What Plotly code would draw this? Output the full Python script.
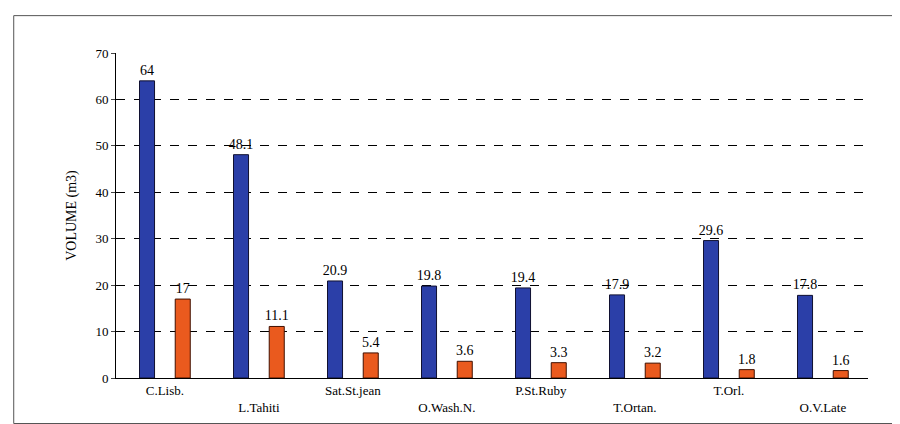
import plotly.graph_objects as go

# Volume per variety (m3)
categories = ['C.Lisb.', 'L.Tahiti', 'Sat.St.jean', 'O.Wash.N.', 'P.St.Ruby', 'T.Ortan.', 'T.Orl.', 'O.V.Late']
blue_vals = [64, 48.1, 20.9, 19.8, 19.4, 17.9, 29.6, 17.8]
orange_vals = [17, 11.1, 5.4, 3.6, 3.3, 3.2, 1.8, 1.6]
y_ticks = [0, 10, 20, 30, 40, 50, 60, 70]

idx = list(range(len(categories)))
tick_text = [c if i % 2 == 0 else '<br>' + c for i, c in enumerate(categories)]
font = dict(family='Liberation Serif', size=14, color='black')

fig = go.Figure()
fig.add_trace(go.Bar(
    x=[i - 0.19 for i in idx], y=blue_vals, width=0.16,
    marker=dict(color='#2b3fa8', line=dict(color='#101030', width=1)),
    text=[str(v) for v in blue_vals], textposition='outside',
    outsidetextfont=font, cliponaxis=False, showlegend=False
))
fig.add_trace(go.Bar(
    x=[i + 0.19 for i in idx], y=orange_vals, width=0.16,
    marker=dict(color='#ea5a1e', line=dict(color='#401000', width=1)),
    text=[str(v) for v in orange_vals], textposition='outside',
    outsidetextfont=font, cliponaxis=False, showlegend=False
))

fig.update_layout(
    width=900, height=424,
    margin=dict(l=108, r=40, t=45, b=54),
    plot_bgcolor='white', paper_bgcolor='white',
    font=font,
    uniformtext=dict(minsize=14, mode='show'),
    xaxis=dict(range=[-0.52, 7.48], tickvals=idx, ticktext=tick_text,
               showgrid=False, showline=True, linecolor='black', ticks='',
               tickfont=dict(family='Liberation Serif', size=13)),
    yaxis=dict(range=[0, 70], tickvals=y_ticks, showline=True, linecolor='black',
               ticks='outside', ticklen=4, gridcolor='black', griddash='dash',
               gridwidth=1, zeroline=False,
               title=dict(text='VOLUME (m3)', font=dict(family='Liberation Serif', size=14)),
               tickfont=dict(family='Liberation Serif', size=13)),
    shapes=[dict(type='rect', xref='paper', yref='paper', x0=-0.136, x1=1.05,
                 y0=-0.14, y1=1.115, line=dict(color='#555', width=1))]
)

fig.write_html('out.html')
